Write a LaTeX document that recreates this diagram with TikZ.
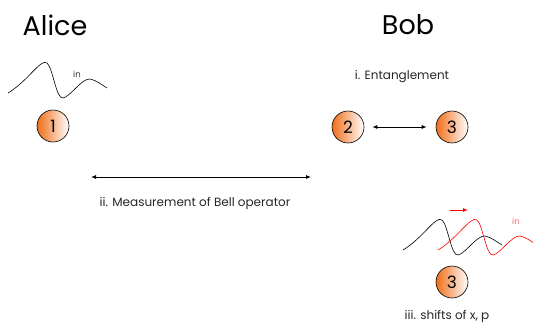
\documentclass[tikz,border=0pt]{standalone}
\usepackage{fontspec}
\setmainfont{Poppins}
\usetikzlibrary{arrows.meta}
\definecolor{qorange}{RGB}{240,110,25}
\definecolor{lightred}{RGB}{240,110,110}
\tikzset{
  particle/.style={circle,draw=black,line width=0.6pt,minimum size=32pt,inner sep=0pt,
    left color=qorange,right color=white,font=\fontsize{17}{18}\selectfont},
  title/.style={font=\fontsize{27}{30}\selectfont,inner sep=0pt},
  caption/.style={font=\fontsize{12}{14}\selectfont,inner sep=0pt,text=black!85},
  dbl/.style={{Latex[length=5pt,width=4pt]}-{Latex[length=5pt,width=4pt]},line width=0.8pt},
  wave/.style={line width=0.6pt},
  pics/wavepath/.style={code={
    \draw[wave,#1] (0,0) .. controls (20,-12) and (33,-35) .. (39,-30)
      .. controls (45,-25) and (48,6) .. (55,5)
      .. controls (62,4) and (74,-15) .. (82,-14)
      .. controls (88,-13) and (94,-8) .. (99,-5);}}
}
\begin{document}
\begin{tikzpicture}[x=1pt,y=-1pt]
\useasboundingbox (0,0) rectangle (533,322);
\node[title] (alice) at (55,25) {Alice};
\node[title] (bob) at (408,25) {Bob};
% Alice wave
\pic at (8,93) {wavepath=black};
\node[font=\fontsize{8.5}{9}\selectfont,text=black!80,inner sep=0pt] (in1) at (77,74) {in};
\node[particle] (c1) at (53,126) {1};
% Bob
\node[caption] (ent) at (402,77) {i. Entanglement};
\node[particle] (c2) at (348,127) {2};
\node[particle] (c3) at (452,127) {3};
\draw[dbl,shorten <=8pt,shorten >=9pt] (c2) -- (c3);
% Bell measurement
\coordinate (m1) at (91,177);
\coordinate (m2) at (311,177);
\draw[dbl] (m1) -- (m2);
\node[caption] (bell) at (195,203) {ii. Measurement of Bell operator};
% shifts
\pic at (403,250) {wavepath=black};
\begin{scope}
\clip (0,0) rectangle (533,322);
\pic at (438,250) {wavepath=red};
\end{scope}
\coordinate (r1) at (450,210);
\coordinate (r2) at (468,210);
\draw[red,line width=0.9pt,-{Latex[length=5pt,width=4pt]}] (r1) -- (r2);
\node[font=\fontsize{8.5}{9}\selectfont,text=lightred,inner sep=0pt] (in2) at (516,221) {in};
\node[particle] (c3b) at (452,282) {3};
\node[caption] (shift) at (447,316) {iii. shifts of x, p};
\end{tikzpicture}
\end{document}
